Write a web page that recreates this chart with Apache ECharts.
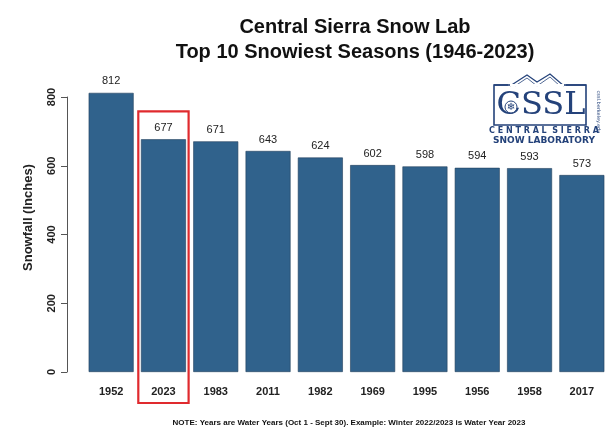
<!DOCTYPE html>
<html>
<head>
<meta charset="utf-8">
<script src="https://cdn.jsdelivr.net/npm/echarts@6/dist/echarts.min.js"></script>
<style>
  html, body { margin: 0; padding: 0; background: #fff; }
  #chart { width: 608px; height: 435px; }
</style>
</head>
<body>
<div id="chart"></div>
<script>
const years = ["1952", "2023", "1983", "2011", "1982", "1969", "1995", "1956", "1958", "2017"];
const snowfall = [812, 677, 671, 643, 624, 602, 598, 594, 593, 573];
const yTicks = [0, 200, 400, 600, 800];
const highlightYear = "2023";

const navy = "#24427a";
const chart = echarts.init(document.getElementById("chart"));

const option = {
  animation: false,
  backgroundColor: "#ffffff",
  title: {
    text: "Central Sierra Snow Lab\nTop 10 Snowiest Seasons (1946-2023)",
    left: 350,
    top: 10,
    textAlign: "center",
    textStyle: {
      fontFamily: "Liberation Sans",
      fontSize: 20,
      fontWeight: "bold",
      color: "#111",
      lineHeight: 25,
    },
  },
  grid: { left: 85, width: 524, top: 97, bottom: 63 },
  xAxis: {
    type: "category",
    data: years,
    axisLine: { show: false },
    axisTick: { show: false },
    axisLabel: {
      margin: 14,
      fontFamily: "Liberation Sans",
      fontSize: 11,
      fontWeight: "bold",
      color: "#222",
    },
  },
  yAxis: {
    type: "value",
    min: yTicks[0],
    max: yTicks[yTicks.length - 1],
    interval: 200,
    offset: 18,
    name: "Snowfall (Inches)",
    nameLocation: "middle",
    nameGap: 32,
    nameTextStyle: {
      fontFamily: "Liberation Sans",
      fontSize: 13,
      fontWeight: "bold",
      color: "#222",
      padding: [0, 0, 0, 34],
    },
    axisLine: { show: true, lineStyle: { color: "#555", width: 1 } },
    axisTick: { show: true, length: 6, lineStyle: { color: "#555" } },
    splitLine: { show: false },
    axisLabel: {
      rotate: 90,
      margin: 10,
      fontFamily: "Liberation Sans",
      fontSize: 11,
      fontWeight: "bold",
      color: "#222",
    },
  },
  series: [
    {
      type: "bar",
      data: snowfall,
      clip: false,
      barCategoryGap: "14%",
      itemStyle: { color: "#30628c", borderColor: "#22405c", borderWidth: 0.6 },
      label: {
        show: true,
        position: "top",
        distance: 6,
        fontFamily: "Liberation Sans",
        fontSize: 11,
        color: "#222",
      },
    },
  ],
};

chart.setOption(option);

// red highlight box round the 2023 bar, placed from the axis scales
const idx = years.indexOf(highlightYear);
const cx = chart.convertToPixel({ xAxisIndex: 0 }, years[idx]);
const band = chart.convertToPixel({ xAxisIndex: 0 }, years[idx + 1]) - cx;
const yZero = chart.convertToPixel({ yAxisIndex: 0 }, 0);
const yTop = chart.convertToPixel({ yAxisIndex: 0 }, snowfall[idx]);

chart.setOption({
  graphic: [
    {
      type: "rect",
      shape: { x: cx - band / 2 + 1, y: yTop - 28, width: band - 2, height: yZero + 31 - (yTop - 28) },
      style: { fill: "none", stroke: "#e02a2e", lineWidth: 2.2 },
      z: 100,
    },
    {
      type: "text",
      x: 349,
      y: 423,
      style: {
        text: "NOTE: Years are Water Years (Oct 1 - Sept 30). Example: Winter 2022/2023 is Water Year 2023",
        font: "bold 8px 'Liberation Sans'",
        fill: "#111",
        textAlign: "center",
        textVerticalAlign: "middle",
      },
    },
    // logo
    {
      type: "group",
      children: [
        { type: "rect", shape: { x: 494, y: 85, width: 92, height: 40 }, style: { fill: "#fff", stroke: navy, lineWidth: 1.6 } },
        { type: "polyline", shape: { points: [[510, 86], [527, 75], [537, 82], [550, 74], [564, 86]] }, style: { fill: "#fff", stroke: navy, lineWidth: 1.2 } },
        { type: "polyline", shape: { points: [[515, 86], [527, 78], [537, 86], [550, 77], [560, 86]] }, style: { fill: "none", stroke: navy, lineWidth: 0.8 } },
        { type: "rect", shape: { x: 508, y: 84, width: 58, height: 2.5 }, style: { fill: "#fff" } },
        { type: "line", shape: { x1: 494, y1: 85, x2: 510, y2: 85 }, style: { stroke: navy, lineWidth: 1.6 } },
        { type: "line", shape: { x1: 564, y1: 85, x2: 586, y2: 85 }, style: { stroke: navy, lineWidth: 1.6 } },
        {
          type: "text", x: 541, y: 106,
          style: { text: "CSSL", font: "32px 'DejaVu Serif'", fill: navy, textAlign: "center", textVerticalAlign: "middle" },
        },
        { type: "circle", shape: { cx: 511, cy: 107, r: 6 }, style: { fill: "#fff", stroke: navy, lineWidth: 1 } },
        {
          type: "text", x: 511, y: 107,
          style: { text: "\u2744", font: "10px 'DejaVu Sans'", fill: navy, textAlign: "center", textVerticalAlign: "middle" },
        },
        {
          type: "text", x: 544, y: 131,
          style: { text: "C E N T R A L  S I E R R A", font: "bold 8px 'DejaVu Sans'", fill: navy, textAlign: "center", textVerticalAlign: "middle" },
        },
        {
          type: "text", x: 544, y: 141,
          style: { text: "SNOW LABORATORY", font: "bold 9px 'DejaVu Sans'", fill: navy, textAlign: "center", textVerticalAlign: "middle" },
        },
        {
          type: "text", x: 598, y: 112, rotation: -Math.PI / 2,
          style: { text: "cssl.berkeley.edu", font: "5px 'DejaVu Sans'", fill: navy, textAlign: "center", textVerticalAlign: "middle" },
        },
      ],
    },
  ],
});
</script>
</body>
</html>
